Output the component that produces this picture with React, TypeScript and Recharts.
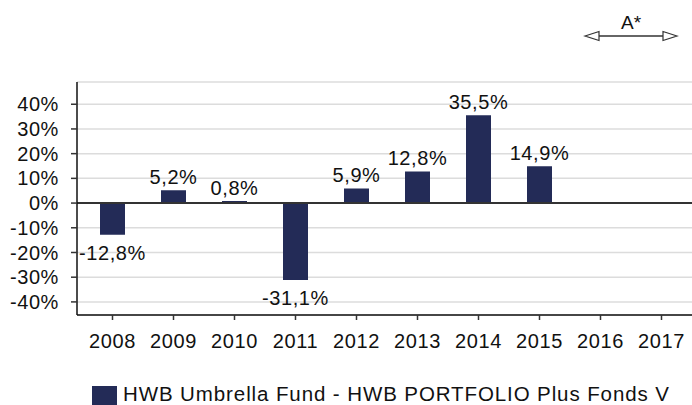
import { Bar, BarChart, CartesianGrid, LabelList, Legend, ReferenceLine, XAxis, YAxis } from "recharts";

const YEARS = ["2008", "2009", "2010", "2011", "2012", "2013", "2014", "2015", "2016", "2017"];
const RETURNS: (number | null)[] = [-12.8, 5.2, 0.8, -31.1, 5.9, 12.8, 35.5, 14.9, null, null];
const Y_TICKS = [-40, -30, -20, -10, 0, 10, 20, 30, 40];
const SERIES_NAME = "HWB Umbrella Fund - HWB PORTFOLIO Plus Fonds V";

const BAR_COLOR = "#232b57";
const FONT = '"Liberation Sans", Arial, sans-serif';

const fmt = (v: number) => `${v.toFixed(1).replace(".", ",")}%`;

const data = YEARS.map((year, i) => ({ year, value: RETURNS[i] }));

function ValueLabel(props: any) {
  const { x, y, width, height, value } = props;
  if (value == null) return null;
  const top = Math.min(y, y + height);
  const bottom = Math.max(y, y + height);
  const neg = value < 0;
  return (
    <text
      x={x + width / 2}
      y={neg ? bottom + 11 : top - 6}
      dy={neg ? "0.72em" : 0}
      textAnchor="middle"
      fontSize={20}
      letterSpacing={0.6}
      fontFamily={FONT}
      fill="#111"
    >
      {fmt(value)}
    </text>
  );
}

function LegendContent({ payload }: any) {
  const item = payload?.[0];
  if (!item) return null;
  return (
    <div style={{ display: "flex", alignItems: "flex-start", fontFamily: FONT, whiteSpace: "nowrap" }}>
      <div style={{ width: 25, height: 19, background: item.color, marginTop: 2 }} />
      <span style={{ fontSize: 20.5, letterSpacing: 0.9, lineHeight: "19px", marginLeft: 6, color: "#111" }}>
        {item.value}
      </span>
    </div>
  );
}

export default function App() {
  return (
    <div style={{ position: "absolute", left: 0, top: 0, width: 692, height: 405, overflow: "hidden", background: "#fff" }}>
      <BarChart width={692} height={405} data={data} margin={{ top: 82, right: 0, bottom: 60, left: 0 }}>
        <CartesianGrid vertical={false} stroke="#dcdcdc" strokeWidth={1.5} />
        <XAxis
          dataKey="year"
          height={30}
          interval={0}
          padding={{ left: 5, right: 0 }}
          tickSize={5}
          tickMargin={14}
          axisLine={{ stroke: "#111", strokeWidth: 1.5 }}
          tickLine={{ stroke: "#333", strokeWidth: 1.5 }}
          tick={{ fontSize: 20, fill: "#111", fontFamily: FONT, letterSpacing: 0.6 }}
        />
        <YAxis
          width={77}
          domain={[-45.3, 49]}
          ticks={Y_TICKS}
          interval={0}
          allowDataOverflow
          tickSize={6}
          tickMargin={12}
          tickFormatter={(v: number) => `${v}%`}
          axisLine={{ stroke: "#111", strokeWidth: 1.5 }}
          tickLine={{ stroke: "#333", strokeWidth: 1.5 }}
          tick={{ fontSize: 20, fill: "#111", fontFamily: FONT, letterSpacing: 0.6 }}
        />
        <ReferenceLine y={0} stroke="#333" strokeWidth={2} />
        <Bar dataKey="value" name={SERIES_NAME} fill={BAR_COLOR} barSize={25} isAnimationActive={false}>
          <LabelList dataKey="value" content={ValueLabel} />
        </Bar>
        <Legend
          layout="vertical"
          align="center"
          verticalAlign="middle"
          wrapperStyle={{ top: 384, left: 92, width: 600, height: 21 }}
          content={LegendContent}
        />
      </BarChart>
      <svg width={692} height={60} style={{ position: "absolute", left: 0, top: 0, pointerEvents: "none" }}>
        <text x={631} y={29} textAnchor="middle" fontSize={19} fontFamily={FONT} fill="#111">
          A*
        </text>
        <line x1={598} y1={36} x2={664} y2={36} stroke="#333" strokeWidth={1.3} />
        <polygon points="585,36 599,31.5 599,40.5" fill="#fff" stroke="#333" strokeWidth={1.2} />
        <polygon points="677,36 663,31.5 663,40.5" fill="#fff" stroke="#333" strokeWidth={1.2} />
      </svg>
    </div>
  );
}
